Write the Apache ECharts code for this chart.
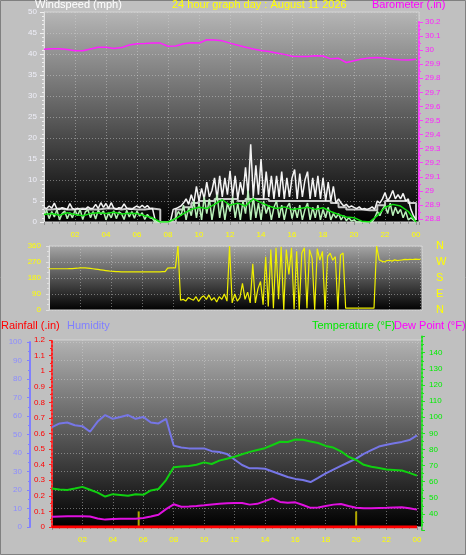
<!DOCTYPE html>
<html><head><meta charset="utf-8">
<script src="https://cdn.jsdelivr.net/npm/echarts@6/dist/echarts.min.js"></script>
<style>html,body{margin:0;padding:0;background:#c0c0c0}#c{width:466px;height:555px}</style>
</head><body><div id="c"></div>
<script>
// ---- tick labels ----
const hourLabels = ['00','02','04','06','08','10','12','14','16','18','20','22','00'];
const compassLabels = {0:'N',90:'E',180:'S',270:'W',360:'N'};

// ---- wind (mph), 10-minute steps from 00:00 (one row per hour) ----
const windGust = [
  3.5,3.2,3.8,3.3,4.5,3.1,
  3.0,3.4,3.2,3.0,4.4,3.2,
  3.0,3.3,3.0,3.1,3.0,3.6,
  3.2,3.3,4.2,3.2,4.6,3.5,
  4.4,3.2,4.6,3.3,3.0,3.4,
  3.3,4.3,3.3,3.1,3.0,3.5,
  3.8,3.4,4.0,3.4,3.9,3.2,
  3.2,0.5,0,0,0,0,
  0,0.3,3.0,3.2,3.5,3.8,
  4.5,5.5,4.2,6.5,4.5,8.5,
  5.0,8.0,5.5,9.5,6.0,7.5,
  10.5,5.5,11.0,6.0,10.5,6.5,
  12.2,6.0,11.0,5.5,9.5,6.5,
  13.0,6.5,18.5,6.0,13.5,6.5,
  15.0,5.5,12.0,6.0,11.0,5.5,
  11.0,6.0,12.0,5.5,10.5,6.0,
  10.5,12.5,5.5,11.5,6.0,10.0,
  12.0,5.5,10.5,6.0,11.0,5.5,
  10.5,5.0,9.5,5.0,8.5,4.5,
  5.5,4.5,3.8,4.2,3.5,3.8,
  3.5,3.2,3.6,3.0,3.2,3.0,
  3.2,3.6,3.0,5.0,4.5,5.5,
  7.0,5.0,6.0,7.5,5.5,6.5,
  5.5,6.8,5.0,5.5,3.0,1.5,
  0.5];
const windSpeed = [
  1.5,2.8,0.8,2.5,1.2,3.0,
  0.5,2.0,2.6,0.8,2.2,1.0,
  2.8,1.5,3.0,0.6,2.4,2.9,
  1.0,2.5,0.7,2.8,1.8,2.6,
  0.5,2.2,1.0,2.7,0.8,2.4,
  2.0,0.6,2.8,1.2,2.5,0.9,
  2.6,1.4,2.2,0.6,1.8,1.0,
  0.8,0,0,0,0,0,
  0,0,0.5,1.0,2.5,1.5,
  4.0,0.5,3.5,1.5,5.0,1.0,
  4.5,0.5,6.0,2.0,5.5,0.5,
  4.0,6.5,1.0,5.0,0.5,4.5,
  2.5,6.0,1.0,4.5,0.5,5.0,
  2.0,7.5,0.5,6.0,1.0,4.5,
  0.5,5.0,2.0,4.0,0.5,3.5,
  5.0,1.0,4.0,0.5,3.5,4.5,
  0.8,3.5,1.0,4.0,0.5,3.0,
  4.5,0.5,3.5,1.0,4.0,0.5,
  3.0,1.0,3.5,0.5,2.0,1.0,
  2.0,0.5,1.5,0.3,1.0,0.2,
  0.5,0,0,0,0,0,
  0,0,1.0,2.5,1.5,3.0,
  4.0,2.0,4.5,1.5,3.5,2.0,
  3.0,1.0,2.5,0.5,1.0,0.5,
  0];
// ---- wind (mph), 30-minute steps ----
const windAvg = [1.8,2.0,1.6,2.2,1.8,1.5,2.0,2.2,2.0,2.3,1.9,2.1,2.0,1.5,1.0,0,0,0.8,2.0,3.0,3.5,3.2,4.2,5.3,4.0,4.5,3.8,5.5,4.6,3.8,3.2,3.6,3.0,3.2,3.5,3.0,3.4,2.5,1.8,1.2,1.0,0.2,0,1.5,3.5,4.2,3.8,2.5,0];
const windHigh = [3.0,3.2,3.0,3.0,3.2,3.0,3.0,3.2,3.2,3.0,3.2,3.0,3.0,3.2,3.0,
  0,0,3.0,3.5,4.5,5.0,5.0,5.5,5.5,5.5,5.0,5.5,5.5,5.5,5.0,5.0,5.0,5.0,5.0,5.0,5.0,5.0,4.5,3.5,3.0,3.0,2.8,2.8,4.0,5.0,5.0,5.0,4.5,0.5];
// ---- barometer (in), 30-minute steps ----
const barometer = [30.006,30.01,30.01,30.005,29.995,29.995,30.008,30.02,30.02,30.012,30.018,30.037,30.045,30.047,30.05,30.05,30.028,30.03,30.045,30.052,30.05,30.074,30.072,30.066,30.05,30.035,30.02,30.008,29.998,29.99,29.98,29.97,29.956,29.954,29.954,29.96,29.958,29.938,29.942,29.912,29.925,29.937,29.945,29.948,29.943,29.935,29.932,29.93,29.935];
// ---- wind direction (deg), 10-minute steps (one row per hour) ----
const windDir = [
  232,232,232,232,232,232,
  232,232,233,233,234,235,
  237,237,237,236,234,232,
  230,228,226,224,222,220,
  218,217,216,216,215,215,
  215,215,215,215,215,215,
  215,215,215,215,215,215,
  215,215,216,216,236,237,
  237,237,360,55,60,50,
  70,62,55,75,48,70,
  80,60,85,55,70,45,
  75,60,90,50,360,40,
  90,50,70,150,60,100,
  40,260,40,120,160,30,
  300,20,340,10,350,60,
  355,0,340,200,350,5,
  330,0,320,350,10,340,
  290,0,345,280,330,0,
  300,320,280,300,0,310,
  320,10,10,10,10,10,
  10,10,10,10,10,10,
  10,360,282,275,270,278,
  280,275,282,278,280,282,
  285,283,285,284,286,285,
  285];
// ---- bottom panel, 30-minute steps ----
const humidity = [54.0,56.0,56.5,55.0,54.5,51.5,57.0,60.5,58.5,59.5,60.5,58.5,59.5,56.5,56.0,58.5,44.0,43.0,42.5,42.5,42.5,41.0,40.5,39.5,36.5,33.5,31.7,31.7,31.5,30.0,28.5,27.0,26.0,25.4,24.3,26.5,29.0,31.0,33.0,35.0,37.0,39.5,41.5,43.5,44.5,45.3,46.0,47.0,49.5];
const temperature = [55.8,55.2,54.9,55.8,56.8,55.0,53.2,50.8,52.3,51.8,51.3,52.2,51.9,54.6,55.5,61.0,69.0,69.4,69.8,70.5,72.0,71.0,73.1,74.3,75.5,77.0,78.5,79.7,80.8,82.8,84.8,84.6,86.2,86.0,85.0,84.0,82.2,81.2,78.8,75.5,73.5,70.5,69.3,68.5,67.6,67.3,67.0,65.5,63.8];
const dewPoint = [38.3,38.5,38.6,38.6,38.6,38.4,37.2,36.5,36.9,37.1,37.1,37.1,37.5,38.4,39.5,43.0,46.0,44.5,44.7,45.0,45.4,45.9,46.3,46.6,46.8,46.8,45.8,46.3,48.0,49.7,47.5,47.0,47.2,45.6,43.8,44.0,45.0,45.8,46.2,45.0,43.9,43.6,43.6,43.7,43.8,44.0,44.1,43.5,42.7];
const rainfall = [0,0,0,0,0,0,0,0,0,0,0,0,0,0,0,0,0,0,0,0,0,0,0,0,0,0,0,0,0,0,0,0,0,0,0,0,0,0,0,0,0,0,0,0,0,0,0,0,0];
const markHours = [5.7, 20.0];
const markValues = [0.1, 0.1];

// ---- build ----
const pairs = (vals, step) => vals.map((v, i) => [i * step, v]);
const FONT = '"Liberation Sans", Arial, sans-serif';
const bg = (a, b) => ({type:'linear', x:0, y:0, x2:0, y2:1, colorStops:[{offset:0,color:a},{offset:1,color:b}]});
const dotted = {show:true, lineStyle:{color:'rgba(215,215,215,0.45)', type:[1,2], width:1}};
const hourFmt = v => (v > 0 && v <= 24 && v % 2 === 0) ? hourLabels[v/2] : '';

function xAx(grid, max, showLabels, split) {
  return {
    type:'value', gridIndex:grid, min:0, max:max, interval:2,
    axisLine:{show:false, onZero:false},
    axisTick:{show:showLabels, length:3, lineStyle:{color:'#909090'}},
    minorTick:{show:showLabels, splitNumber:4, length:2, lineStyle:{color:'#909090'}},
    axisLabel:{show:showLabels, formatter:hourFmt, color:'#ffff00', fontSize:8, fontFamily:FONT, margin:9},
    splitLine: split ? dotted : {show:false}
  };
}

const chart = echarts.init(document.getElementById('c'));
chart.setOption({
  backgroundColor:'#c0c0c0',
  animation:false,
  grid:[
    {left:44, top:12, width:375, height:210, show:true, backgroundColor:bg('#b6b6b6','#000000'), borderColor:'#d4d4d4', borderWidth:1},
    {left:44, top:22, width:375, height:197, show:false},
    {left:49, top:246, width:373, height:64, show:true, backgroundColor:bg('#a6a6a6','#000000'), borderColor:'#d4d4d4', borderWidth:1},
    {left:52, top:340, width:370, height:187, show:true, backgroundColor:bg('#b2b2b2','#000000'), borderColor:'#d4d4d4', borderWidth:1},
    {left:52, top:342, width:370, height:185, show:false},
    {left:52, top:336.6, width:370, height:193.5, show:false}
  ],
  xAxis:[
    xAx(0, 24.19, true, true),
    xAx(1, 24.19, false, false),
    xAx(2, 24.1, false, true),
    xAx(3, 24.33, true, true),
    xAx(4, 24.33, false, false),
    xAx(5, 24.33, false, false)
  ],
  yAxis:[
    {type:'value', gridIndex:0, min:0, max:50, interval:5, position:'left',
      axisLine:{show:true, onZero:false, lineStyle:{color:'#e0e0e0'}},
      axisTick:{show:true, length:4, lineStyle:{color:'#f0f0f0'}},
      minorTick:{show:true, splitNumber:5, length:2, lineStyle:{color:'#f0f0f0'}},
      axisLabel:{color:'#eeeef8', fontSize:8, fontFamily:FONT, margin:7},
      splitLine:dotted},
    {type:'value', gridIndex:1, min:28.8, max:30.2, interval:0.1, position:'right',
      axisLine:{show:true, onZero:false, lineStyle:{color:'#ff40ff', type:[2,2], width:2}},
      axisTick:{show:true, length:4, lineStyle:{color:'#ff40ff'}},
      minorTick:{show:true, splitNumber:2, length:2, lineStyle:{color:'#ff40ff'}},
      axisLabel:{color:'#ff20ff', fontSize:8, fontFamily:FONT, margin:6, formatter:v => +v.toFixed(1) + ''},
      splitLine:{show:false}},
    {type:'value', gridIndex:2, min:0, max:360, interval:90, position:'left',
      axisLine:{show:true, onZero:false, lineStyle:{color:'#e0e0e0'}},
      axisTick:{show:true, length:3, lineStyle:{color:'#e0e0e0'}},
      minorTick:{show:true, splitNumber:3, length:2, lineStyle:{color:'#e0e0e0'}},
      axisLabel:{color:'#ffff00', fontSize:8, fontFamily:FONT, margin:8},
      splitLine:dotted},
    {type:'value', gridIndex:2, min:0, max:360, interval:90, position:'right',
      axisLine:{show:false, onZero:false}, axisTick:{show:false},
      axisLabel:{color:'#ffff00', fontSize:11, fontFamily:FONT, margin:14, formatter:v => compassLabels[v] || ''},
      splitLine:{show:false}},
    {type:'value', gridIndex:3, min:0, max:1.2, interval:0.1, position:'left',
      axisLine:{show:true, onZero:false, lineStyle:{color:'#ff2020', type:[2,2], width:2}},
      axisTick:{show:true, length:3, lineStyle:{color:'#ff2020'}},
      minorTick:{show:true, splitNumber:2, length:2, lineStyle:{color:'#ff2020'}},
      axisLabel:{color:'#ff0000', fontSize:8, fontFamily:FONT, margin:7, formatter:v => +v.toFixed(1) + ''},
      splitLine:{show:false}},
    {type:'value', gridIndex:4, min:0, max:100, interval:10, position:'left', offset:22,
      axisLine:{show:true, onZero:false, lineStyle:{color:'#8080ff', width:2}},
      axisTick:{show:true, length:3, lineStyle:{color:'#8080ff'}},
      minorTick:{show:true, splitNumber:2, length:2, lineStyle:{color:'#8080ff'}},
      axisLabel:{color:'#8c8cff', fontSize:8, fontFamily:FONT, margin:8},
      splitLine:dotted},
    {type:'value', gridIndex:5, min:30, max:150, interval:10, position:'right',
      axisLine:{show:true, onZero:false, lineStyle:{color:'#20e020', type:[2,2], width:2}},
      axisTick:{show:true, length:3, lineStyle:{color:'#20e020'}},
      minorTick:{show:true, splitNumber:2, length:2, lineStyle:{color:'#20e020'}},
      axisLabel:{color:'#00ee00', fontSize:8, fontFamily:FONT, margin:7, formatter:v => (v >= 40 && v <= 140) ? v + '' : ''},
      splitLine:{show:false}}
  ],
  series:[
    {type:'line', xAxisIndex:0, yAxisIndex:0, data:pairs(windHigh, 0.5), step:'end', symbol:'none', lineStyle:{color:'#c8c8c8', width:2}},
    {type:'line', xAxisIndex:0, yAxisIndex:0, data:pairs(windGust, 1/6), symbol:'none', lineStyle:{color:'#f4f4f4', width:1.5}},
    {type:'line', xAxisIndex:0, yAxisIndex:0, data:pairs(windSpeed, 1/6), symbol:'none', lineStyle:{color:'#b8f0b8', width:1.5}},
    {type:'line', xAxisIndex:0, yAxisIndex:0, data:pairs(windAvg, 0.5), symbol:'none', lineStyle:{color:'#10e010', width:1.5}},
    {type:'line', xAxisIndex:1, yAxisIndex:1, data:pairs(barometer, 0.5), symbol:'none', lineStyle:{color:'#ff20ff', width:1.5}},
    {type:'line', xAxisIndex:2, yAxisIndex:2, data:pairs(windDir, 1/6), symbol:'none', lineStyle:{color:'#f0f000', width:1.2}},
    {type:'line', xAxisIndex:4, yAxisIndex:5, data:pairs(humidity, 0.5), symbol:'none', lineStyle:{color:'#7676e6', width:2}},
    {type:'line', xAxisIndex:5, yAxisIndex:6, data:pairs(temperature, 0.5), symbol:'none', lineStyle:{color:'#10d010', width:2}},
    {type:'line', xAxisIndex:5, yAxisIndex:6, data:pairs(dewPoint, 0.5), symbol:'none', lineStyle:{color:'#e010e0', width:2}},
    {type:'line', xAxisIndex:3, yAxisIndex:4, data:pairs(rainfall, 0.5), symbol:'none', lineStyle:{color:'#ff0000', width:3}},
    {type:'bar', xAxisIndex:3, yAxisIndex:4, data:markHours.map((h, i) => [h, markValues[i]]), barWidth:2, itemStyle:{color:'#b0a800'}}
  ],
  graphic:[
    {type:'rect', shape:{x:0.5, y:0.5, width:465, height:554}, style:{fill:'none', stroke:'#808080', lineWidth:1}, silent:true},
    {type:'text', left:35, top:-1, style:{text:'Windspeed (mph)', fill:'#ffffff', font:'11px ' + FONT}},
    {type:'text', left:172, top:-1, style:{text:'24 hour graph day : August 11 2026', fill:'#ffff00', font:'11px ' + FONT}},
    {type:'text', left:372, top:-1, style:{text:'Barometer (.in)', fill:'#ff00ff', font:'11px ' + FONT}},
    {type:'text', left:1, top:320, style:{text:'Rainfall (.in)', fill:'#ff0000', font:'11px ' + FONT}},
    {type:'text', left:67, top:320, style:{text:'Humidity', fill:'#8080ff', font:'11px ' + FONT}},
    {type:'text', left:312, top:320, style:{text:'Temperature (°F)', fill:'#00e800', font:'11px ' + FONT}},
    {type:'text', left:394, top:320, style:{text:'Dew Point (°F)', fill:'#ff00ff', font:'11px ' + FONT}}
  ]
});
</script>
</body></html>
